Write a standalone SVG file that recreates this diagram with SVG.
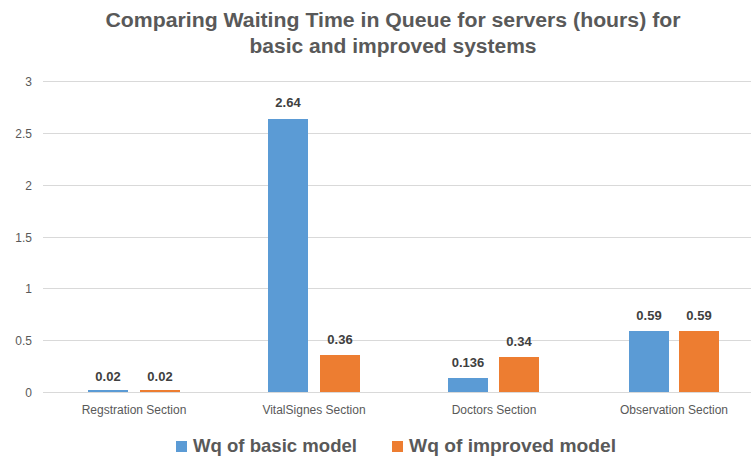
<svg xmlns="http://www.w3.org/2000/svg" width="751" height="456" viewBox="0 0 751 456">
<style>
.grid{stroke:#D9D9D9;stroke-width:1}
.ax{font-family:"Liberation Sans",Arial,sans-serif;font-size:12px;fill:#595959}
.cat{font-family:"Liberation Sans",Arial,sans-serif;font-size:12px;fill:#595959;text-anchor:middle}
.val{font-family:"Liberation Sans",Arial,sans-serif;font-size:13px;font-weight:bold;fill:#404040;text-anchor:middle}
.title{font-family:"Liberation Sans",Arial,sans-serif;font-size:20px;font-weight:bold;fill:#595959;text-anchor:middle}
.leg{font-family:"Liberation Sans",Arial,sans-serif;font-size:19px;font-weight:bold;fill:#595959}
.b{fill:#5B9BD5}
.o{fill:#ED7D31}
</style>
<rect width="751" height="456" fill="#FFFFFF"/>
<g id="title">
<text class="title" x="393" y="27" textLength="575" lengthAdjust="spacingAndGlyphs">Comparing Waiting Time in Queue for servers (hours) for</text>
<text class="title" x="393" y="53" textLength="287" lengthAdjust="spacingAndGlyphs">basic and improved systems</text>
</g>
<g id="gridlines">
<line class="grid" x1="43" y1="81.5" x2="751" y2="81.5"/>
<line class="grid" x1="43" y1="133.5" x2="751" y2="133.5"/>
<line class="grid" x1="43" y1="185.5" x2="751" y2="185.5"/>
<line class="grid" x1="43" y1="237.5" x2="751" y2="237.5"/>
<line class="grid" x1="43" y1="288.5" x2="751" y2="288.5"/>
<line class="grid" x1="43" y1="340.5" x2="751" y2="340.5"/>
<line class="grid" x1="43" y1="392.5" x2="751" y2="392.5"/>
</g>
<g id="y-axis" text-anchor="end">
<text class="ax" x="32" y="86">3</text>
<text class="ax" x="32" y="138">2.5</text>
<text class="ax" x="32" y="190">2</text>
<text class="ax" x="32" y="242">1.5</text>
<text class="ax" x="32" y="293">1</text>
<text class="ax" x="32" y="345">0.5</text>
<text class="ax" x="32" y="397">0</text>
</g>
<g id="bars-basic">
<rect class="b" x="88" y="390" width="40" height="2"/>
<rect class="b" x="268" y="119" width="40" height="273"/>
<rect class="b" x="448" y="378" width="40" height="14"/>
<rect class="b" x="629" y="331" width="40" height="61"/>
</g>
<g id="bars-improved">
<rect class="o" x="140" y="390" width="40" height="2"/>
<rect class="o" x="320" y="355" width="40" height="37"/>
<rect class="o" x="499" y="357" width="40" height="35"/>
<rect class="o" x="679" y="331" width="40" height="61"/>
</g>
<g id="labels-basic">
<text class="val" x="108" y="381">0.02</text>
<text class="val" x="288" y="107">2.64</text>
<text class="val" x="468" y="367">0.136</text>
<text class="val" x="649" y="320">0.59</text>
</g>
<g id="labels-improved">
<text class="val" x="160" y="381">0.02</text>
<text class="val" x="340" y="344">0.36</text>
<text class="val" x="519" y="346">0.34</text>
<text class="val" x="699" y="320">0.59</text>
</g>
<g id="categories">
<text class="cat" x="134" y="414">Regstration Section</text>
<text class="cat" x="314" y="414">VitalSignes Section</text>
<text class="cat" x="494" y="414">Doctors Section</text>
<text class="cat" x="674" y="414">Observation Section</text>
</g>
<g id="legend">
<rect class="b" x="176" y="441" width="11" height="11"/>
<text class="leg" x="193" y="452" textLength="164" lengthAdjust="spacingAndGlyphs">Wq of basic model</text>
<rect class="o" x="392" y="441" width="11" height="11"/>
<text class="leg" x="409" y="452" textLength="207" lengthAdjust="spacingAndGlyphs">Wq of improved model</text>
</g>
</svg>
